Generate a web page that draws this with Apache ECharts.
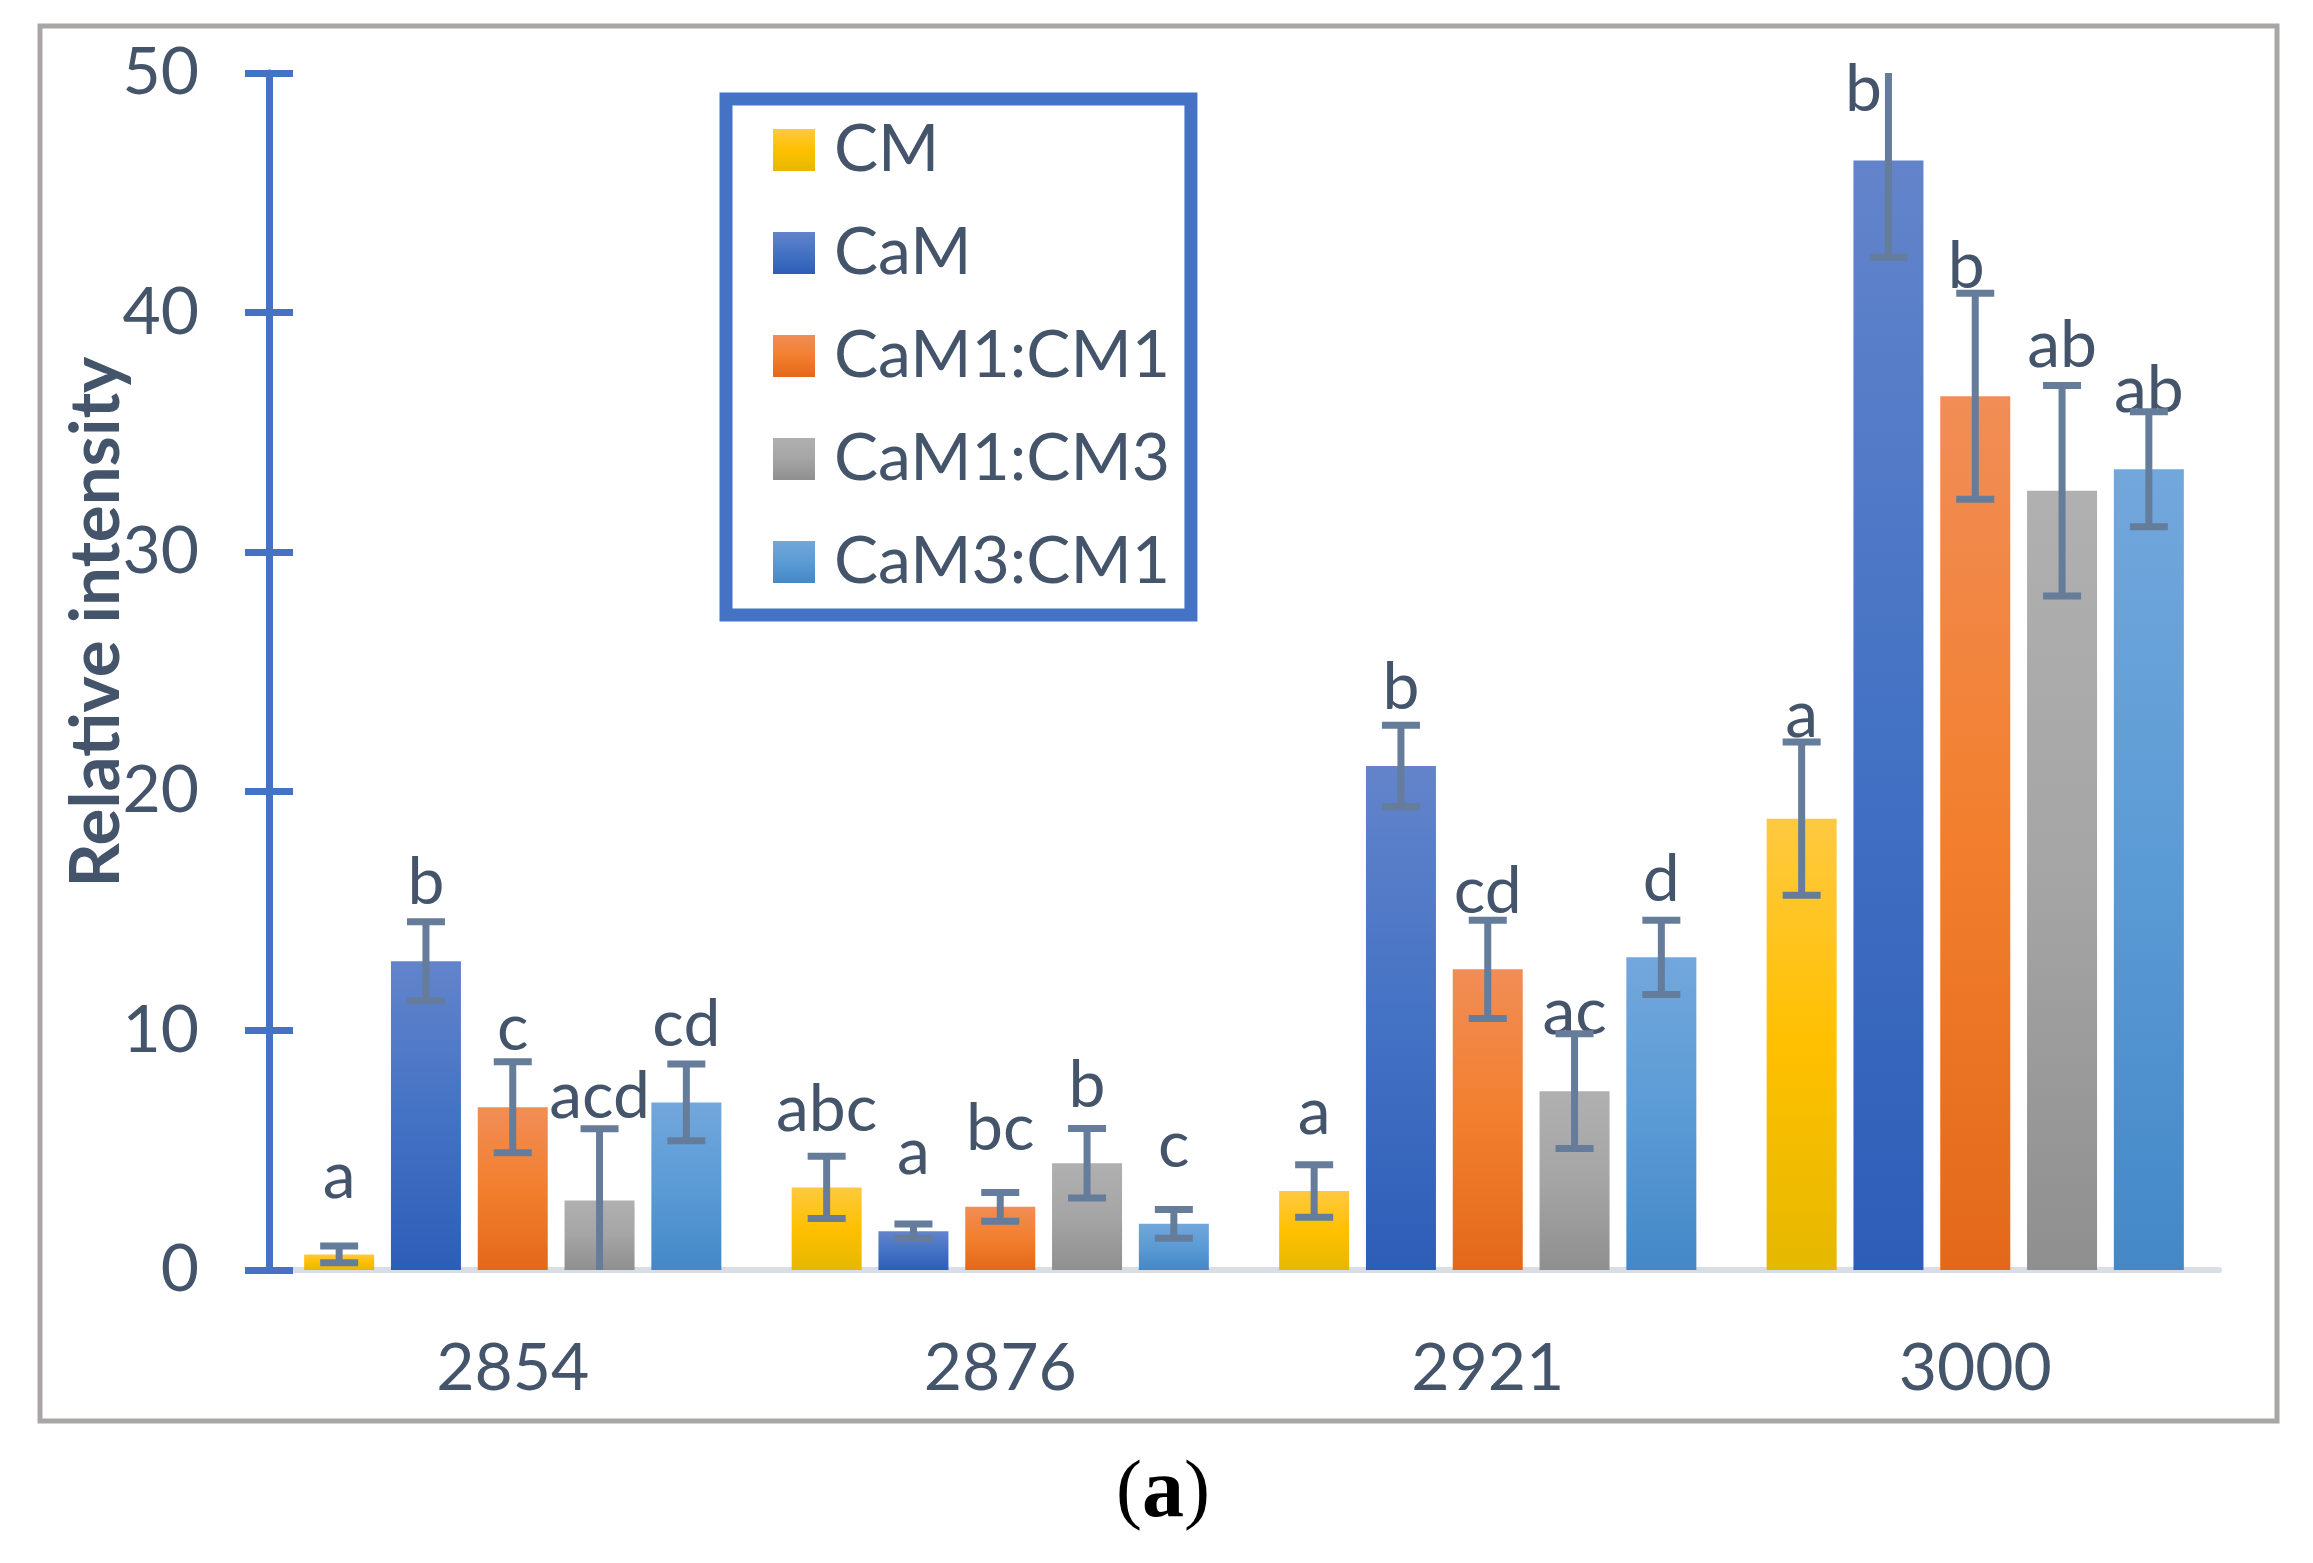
<!DOCTYPE html>
<html><head><meta charset="utf-8">
<script src="https://cdn.jsdelivr.net/npm/echarts@6/dist/echarts.min.js"></script>
<style>html,body{margin:0;padding:0;background:#fff}#c{width:2313px;height:1563px}</style>
</head><body><div id="c"></div>
<script>
const categories = ['2854', '2876', '2921', '3000'];
const seriesNames = ['CM', 'CaM', 'CaM1:CM1', 'CaM1:CM3', 'CaM3:CM1'];
const cmValues = [0.65, 3.45, 3.3, 18.85];
const camValues = [12.9, 1.62, 21.05, 46.35];
const cam1cm1Values = [6.8, 2.64, 12.56, 36.5];
const cam1cm3Values = [2.9, 4.46, 7.47, 32.55];
const cam3cm1Values = [7.0, 1.93, 13.06, 33.45];
const cmErr = [0.35, 1.3, 1.1, 3.2];
const camErr = [1.65, 0.3, 1.7, 4.05];
const cam1cm1Err = [1.9, 0.6, 2.05, 4.3];
const cam1cm3Err = [3.0, 1.45, 2.4, 4.4];
const cam3cm1Err = [1.6, 0.6, 1.55, 2.4];
const cmLetters = ['a', 'abc', 'a', 'a'];
const camLetters = ['b', 'a', 'b', 'b'];
const cam1cm1Letters = ['c', 'bc', 'cd', 'b'];
const cam1cm3Letters = ['acd', 'b', 'ac', 'ab'];
const cam3cm1Letters = ['cd', 'c', 'd', 'ab'];
const yMin = 0, yMax = 50, yStep = 10;

// label nudges in pixels (layout only): [series][category] -> [dx, dy]
const labelNudges = [
  [[0, 0], [0, 0], [0, 0], [0, -25]],
  [[0, 0], [0, 0], [0, 0], [-25, 7]],
  [[0, 0], [0, 0], [0, 0], [-9, -51]],
  [[0, -26], [0, 0], [0, 0], [0, -67]],
  [[0, 0], [0, 0], [0, 0], [0, 0]]
];

const allValues = [cmValues, camValues, cam1cm1Values, cam1cm3Values, cam3cm1Values];
const allErr = [cmErr, camErr, cam1cm1Err, cam1cm3Err, cam3cm1Err];
const allLetters = [cmLetters, camLetters, cam1cm1Letters, cam1cm3Letters, cam3cm1Letters];
const gradStops = [
  ['#FFC940', '#FFC000', '#E5B800'],
  ['#6384CB', '#4472C4', '#2E5DB8'],
  ['#F18D56', '#F27F2E', '#E3681A'],
  ['#B0B0B0', '#A5A5A5', '#8F8F8F'],
  ['#72A7DC', '#5B9BD5', '#4488C8']
];
const TXT = '#44546A';
const ERR = '#657C9A';
const FONT = 'Lato';
const FS = 66;
const BAR_W = 70, BAR_GAP = 0.24;

const chart = echarts.init(document.getElementById('c'), null, {renderer: 'canvas'});

function grad(i) {
  return new echarts.graphic.LinearGradient(0, 0, 0, 1, [
    {offset: 0, color: gradStops[i][0]},
    {offset: 0.5, color: gradStops[i][1]},
    {offset: 1, color: gradStops[i][2]}
  ]);
}

const series = [];
seriesNames.forEach((name, i) => {
  series.push({
    name: name,
    type: 'bar',
    barWidth: BAR_W,
    barGap: (BAR_GAP * 100) + '%',
    itemStyle: {color: grad(i)},
    label: {
      show: true,
      position: 'top',
      distance: 46,
      color: TXT,
      fontFamily: FONT,
      fontSize: FS,
      lineHeight: 64,
      formatter: p => allLetters[i][p.dataIndex]
    },
    data: allValues[i].map((v, k) => ({value: v, label: {offset: labelNudges[i][k]}})),
    z: 2
  });
});
seriesNames.forEach((name, i) => {
  series.push({
    type: 'custom',
    name: name + ' err',
    z: 3,
    silent: true,
    data: categories.map((c, k) => [k, allValues[i][k], allErr[i][k]]),
    renderItem: function (params, api) {
      const c = api.value(0), v = api.value(1), e = api.value(2);
      const center = api.coord([c, v]);
      const gap = BAR_W * BAR_GAP;
      const total = 5 * BAR_W + 4 * gap;
      const x = center[0] - total / 2 + i * (BAR_W + gap) + BAR_W / 2;
      const hiV = v + e, loV = v - e;
      const yHi = api.coord([c, Math.min(hiV, yMax)])[1];
      const yLo = api.coord([c, Math.max(loV, yMin)])[1];
      const st = {stroke: ERR, lineWidth: 7};
      const ch = [{type: 'line', shape: {x1: x, y1: yHi, x2: x, y2: yLo}, style: st}];
      const capW = 19;
      if (hiV <= yMax) ch.push({type: 'line', shape: {x1: x - capW, y1: yHi, x2: x + capW, y2: yHi}, style: st});
      if (loV >= yMin) ch.push({type: 'line', shape: {x1: x - capW, y1: yLo, x2: x + capW, y2: yLo}, style: st});
      return {type: 'group', children: ch};
    }
  });
});

const option = {
  animation: false,
  backgroundColor: '#fff',
  grid: {left: 269, right: 94, top: 73, bottom: 293, containLabel: false},
  legend: {
    data: seriesNames,
    orient: 'vertical',
    left: 726, top: 99,
    padding: [18, 21, 20, 47],
    itemWidth: 42, itemHeight: 42,
    itemGap: 37,
    icon: 'rect',
    borderColor: '#4472C4', borderWidth: 13,
    backgroundColor: '#fff',
    textStyle: {color: TXT, fontFamily: FONT, fontSize: FS, lineHeight: 63, padding: [0, 0, 0, 14]}
  },
  xAxis: {
    type: 'category',
    data: categories,
    axisLine: {lineStyle: {color: '#D9DDE5', width: 6}},
    axisTick: {show: false},
    axisLabel: {color: TXT, fontFamily: FONT, fontSize: FS, margin: 66}
  },
  yAxis: [{
    type: 'value', min: yMin, max: yMax, interval: yStep,
    axisLine: {show: true, lineStyle: {color: '#4472C4', width: 7}},
    axisTick: {show: true, length: 24, lineStyle: {color: '#4472C4', width: 7}},
    axisLabel: {color: TXT, fontFamily: FONT, fontSize: FS, margin: 70},
    splitLine: {show: false}
  }, {
    type: 'value', min: yMin, max: yMax, interval: yStep, position: 'left',
    axisLine: {show: false},
    axisTick: {show: true, inside: true, length: 24, lineStyle: {color: '#4472C4', width: 7}},
    axisLabel: {show: false},
    splitLine: {show: false}
  }],
  graphic: [
    {type: 'rect', z: -10, shape: {x: 40, y: 26, width: 2237, height: 1395},
     style: {fill: 'none', stroke: '#A9A6A6', lineWidth: 5}},
    {type: 'text', x: 97, y: 622, rotation: Math.PI / 2,
     style: {text: 'Relative intensity', x: 0, y: 0, align: 'center', verticalAlign: 'middle',
       fontFamily: FONT, fontWeight: 'bold', fontSize: 69, fill: TXT}},
    {type: 'text', x: 1163, y: 1494,
     style: {text: '{p|(}{b|a}{p|)}', x: 0, y: 0, align: 'center', verticalAlign: 'middle',
       rich: {p: {fontFamily: 'Liberation Serif', fontSize: 78, fill: '#000'},
              b: {fontFamily: 'Liberation Serif', fontWeight: 'bold', fontSize: 84, fill: '#000'}}}}
  ],
  series: series
};
chart.setOption(option);
</script>
</body></html>
